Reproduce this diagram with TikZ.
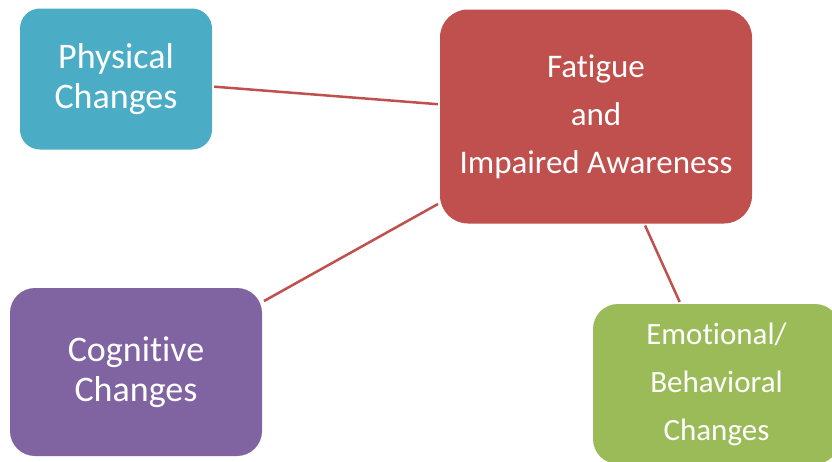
\documentclass[tikz,border=0pt]{standalone}
\usepackage{fontspec}
\setmainfont{Carlito}[RawFeature={-liga;-clig;-calt;-dlig;-rlig}]
\newcommand{\tibreak}{t\kern0pt i}
\definecolor{cteal}{HTML}{4BACC6}
\definecolor{cred}{HTML}{C0504D}
\definecolor{cpurple}{HTML}{8064A2}
\definecolor{cgreen}{HTML}{9BBB59}
\begin{document}
\begin{tikzpicture}[x=1pt,y=-1pt,
  box/.style={inner sep=0pt,text=white,align=center,draw=none},
  link/.style={draw=cred,line width=2.5pt,shorten >=2pt,shorten <=2pt}]
\clip (0,0) rectangle (832,461);
\fill[white] (0,0) rectangle (832,461);
\node[box,fill=cteal,rounded corners=20pt,minimum width=192pt,minimum height=141pt,
  font=\fontsize{36}{40}\selectfont] (phys) at (116,79) {Physical\\Changes};
\node[box,fill=cred,rounded corners=28pt,minimum width=312pt,minimum height=214pt,
  font=\fontsize{33}{48}\selectfont] (fat) at (596,116.5) {Fa\tibreak gue\\and\\Impaired Awareness};
\node[box,fill=cpurple,rounded corners=25pt,minimum width=252pt,minimum height=168pt,
  font=\fontsize{36}{40}\selectfont] (cog) at (136,372) {Cogni\tibreak ve\\Changes};
\node[box,fill=cgreen,rounded corners=25pt,minimum width=247pt,minimum height=160pt,
  font=\fontsize{31}{48}\selectfont] (emo) at (716.5,384) {Emo\tibreak onal/\\Behavioral\\Changes};
\draw[link] (phys) -- (fat);
\draw[link] (cog) -- (fat);
\draw[link] (fat) -- (emo);
\end{tikzpicture}
\end{document}
